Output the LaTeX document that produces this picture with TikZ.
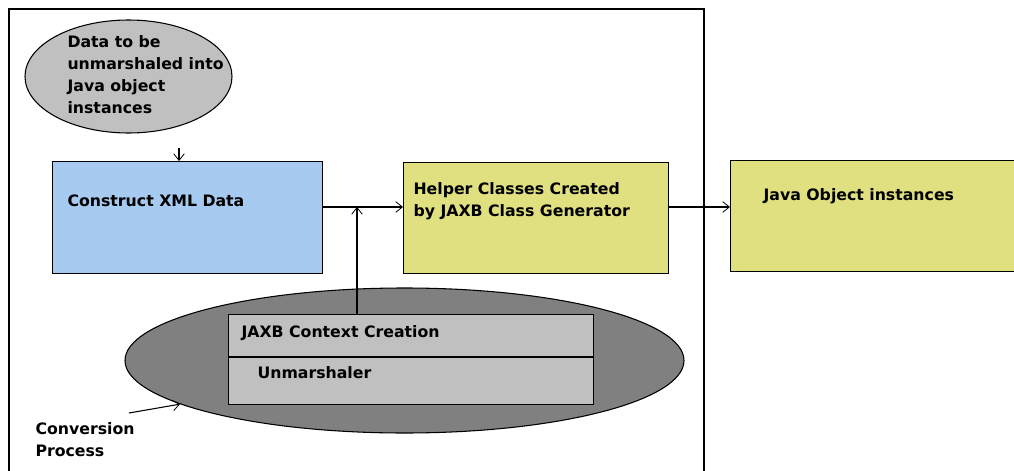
\documentclass[tikz,border=0pt]{standalone}
\usepackage{fontspec}
\setmainfont{DejaVu Sans}
\usepackage{tikz}
\usetikzlibrary{shapes.geometric,arrows.meta}
\definecolor{skyblue}{HTML}{A6CAF0}
\definecolor{paleyellow}{HTML}{E0E080}
\definecolor{silvergray}{HTML}{C0C0C0}
\definecolor{midgray}{HTML}{808080}

\begin{document}
\begin{tikzpicture}[x=0.75pt,y=-0.75pt,line width=0.8pt,
  >={Straight Barb[length=5pt,width=8pt,line width=0.6pt]},
  box/.style={draw,rectangle,anchor=north west,inner sep=0pt},
  blob/.style={draw,ellipse,inner sep=0pt},
  txt/.style={anchor=west,align=left,inner sep=0pt,font=\fontsize{11.8}{16.5}\selectfont\bfseries}]
  \clip (0,0) rectangle (1014,471);
  \draw (9,480) -- (9,9) -- (704,9) -- (704,480);

  \node (data) at (128.5,76.5) [blob,fill=silvergray,minimum width=155.25pt,minimum height=84.75pt] {};
  \node (datatxt) at (67,75) [txt] {Data to be\\unmarshaled into\\Java object\\instances};

  \node (xml) at (52,161) [box,fill=skyblue,minimum width=202.5pt,minimum height=84pt] {};
  \node (xmltxt) at (67,201) [txt] {Construct XML Data};
  \node (helper) at (403,162) [box,fill=paleyellow,minimum width=198.75pt,minimum height=83.25pt] {};
  \node (helpertxt) at (413,201.5) [txt] {Helper Classes Created\\by JAXB Class Generator};
  \node (java) at (730,160) [box,fill=paleyellow,minimum width=240pt,minimum height=83.25pt] {};
  \node (javatxt) at (763,196) [txt] {Java Object instances};

  \node (conv) at (404.5,360.5) [blob,fill=midgray,minimum width=419.25pt,minimum height=108.75pt] {};
  \node (jaxb) at (228,314) [box,fill=silvergray,minimum width=273.75pt,minimum height=67.5pt] {};
  \draw (jaxb.west |- 0,357) -- (jaxb.east |- 0,357);
  \node (ctxtxt) at (241,333) [txt] {JAXB Context Creation};
  \node (unmtxt) at (257,373) [txt] {Unmarshaler};
  \node (convtxt) at (35,439.5) [txt] {Conversion\\Process};

  \coordinate (feed) at (179,148);
  \coordinate (join) at (357,207);
  \coordinate (convtail) at (129,413);
  \draw[->] (feed) -- (feed |- xml.north);
  \draw[->] (xml.east |- join) -- (helper.west |- join);
  \draw[->] (helper.east |- join) -- (java.west |- join);
  \draw[->] (jaxb.north -| join) -- (join);
  \draw[->] (convtail) -- (conv.191);
\end{tikzpicture}
\end{document}
